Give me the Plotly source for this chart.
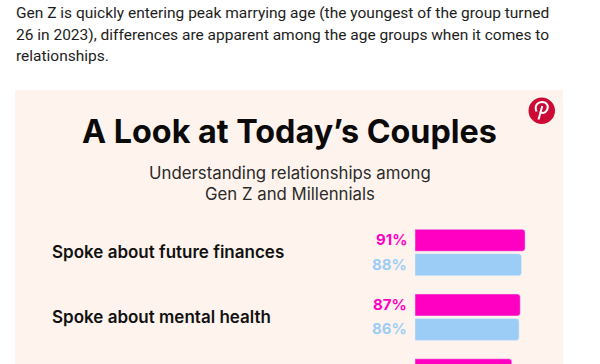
import plotly.graph_objects as go

paragraph = ["Gen Z is quickly entering peak marrying age (the youngest of the group turned",
             "26 in 2023), differences are apparent among the age groups when it comes to",
             "relationships."]
title = "A Look at Today’s Couples"
subtitle = ["Understanding relationships among", "Gen Z and Millennials"]
categories = ["Spoke about future finances", "Spoke about mental health", "Spoke about parenting"]
series_a = [91, 87, 80]
series_b = [88, 86, 76]

PINK = "#FF00C3"
BLUE = "#9CCDF7"
PANEL = "#FFF4ED"
W, H = 600, 364
LEFT = 49
DOM0 = LEFT / W
PX = 1.21
fig = go.Figure()
fig.add_bar(y=categories, x=series_a, orientation="h", marker=dict(color=PINK, cornerradius=3), name="A", cliponaxis=True)
fig.add_bar(y=categories, x=series_b, orientation="h", marker=dict(color=BLUE, cornerradius=3), name="B", cliponaxis=True)

fig.add_shape(type="rect", xref="paper", yref="paper", x0=15/W, x1=563/W, y0=0, y1=1-90/H,
              fillcolor=PANEL, line_width=0, layer="below")
fig.add_shape(type="circle", xref="paper", yref="paper", x0=528.5/W, x1=555/W, y0=1-124/H, y1=1-97.5/H,
              fillcolor="#CB0A35", line_width=0)

def pt(x, y):
    return f"{x/W:.5f},{1-y/H:.5f}"

fig.add_shape(type="path", xref="paper", yref="paper",
              path=f"M {pt(536.5,111.5)} C {pt(534,105)} {pt(538,102)} {pt(542,102)} C {pt(547,102)} {pt(549,106)} {pt(547,110)} "
                   f"C {pt(545,114)} {pt(541,113.5)} {pt(540.5,111.5)}",
              line=dict(color="white", width=2), fillcolor="rgba(0,0,0,0)")
fig.add_shape(type="line", xref="paper", yref="paper", x0=542.3/W, y0=1-106/H, x1=538.5/W, y1=1-119.5/H,
              line=dict(color="white", width=2))

def text(x, y, s, size, color, font, anchor="left", weight=400):
    fig.add_annotation(xref="paper", yref="paper", x=x/W, y=1-y/H, text=s, showarrow=False,
                       xanchor=anchor, yanchor="middle", borderpad=0,
                       font=dict(size=size, color=color, family=font, weight=weight))

for i, line in enumerate(paragraph):
    text(15, 13.5 + 21.3*i, line, 15.5, "#1d1d1d", "Roboto")
text(289.5, 131, title, 32.3, "#0a0a0a", "Inter", "center", 700)
for i, line in enumerate(subtitle):
    text(289.5, 172.5 + 21.5*i, line, 16.8, "#2a2a2a", "Inter", "center")

for i, (a, b) in enumerate(zip(series_a, series_b)):
    for val, col, off in ((a, PINK, 12.7), (b, BLUE, -11.7)):
        fig.add_annotation(xref="x", yref="y", x=0, y=categories[i], text=f"{val}%", showarrow=False,
                           xanchor="right", xshift=-6, yshift=off,
                           font=dict(size=15, color=col, family="Inter", weight=700))

fig.update_layout(width=W, height=H, margin=dict(l=0, r=0, t=0, b=0), paper_bgcolor="white",
                  plot_bgcolor="rgba(0,0,0,0)", showlegend=False, barmode="group", bargap=0.246, bargroupgap=0.1,
                  xaxis=dict(domain=[DOM0, 1], range=[-(415-LEFT)/PX, (600-415)/PX], visible=False),
                  yaxis=dict(range=[1.723, -3.9], ticklabelposition="inside", showline=False, showgrid=False,
                             zeroline=False, ticks="", tickfont=dict(size=17, color="#111111", family="Inter", weight=600)))
fig.write_html("out.html", config={"displayModeBar": False},
               post_script="document.body.style.margin='0';document.body.style.overflow='hidden';")
